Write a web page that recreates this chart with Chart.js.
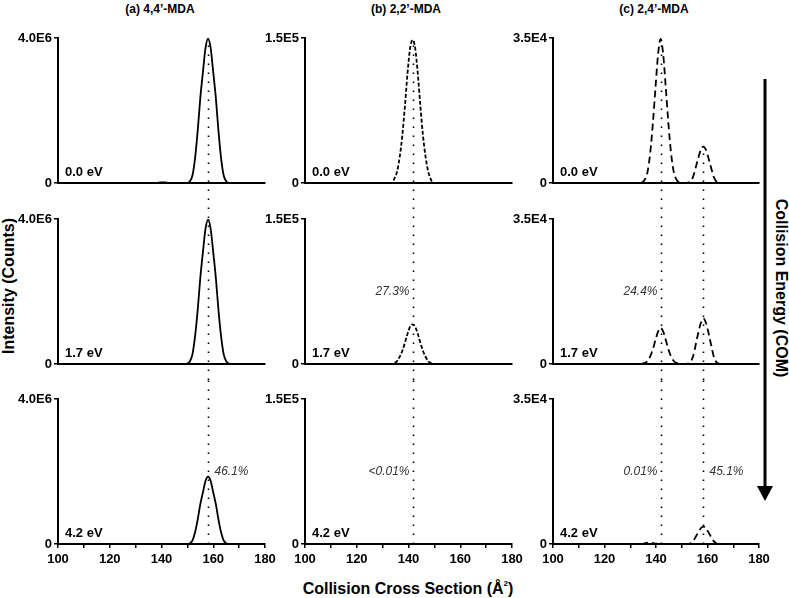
<!DOCTYPE html>
<html>
<head>
<meta charset="utf-8">
<script src="https://cdn.jsdelivr.net/npm/chart.js@4.4.1/dist/chart.umd.min.js"></script>
<style>
body { margin: 0; background: #fff; }
#fig { position: relative; width: 789px; height: 598px; font-family: "Liberation Sans", Arial, sans-serif; color: #000; overflow: hidden; }
#fig canvas { position: absolute; }
.lbl { position: absolute; font-weight: bold; white-space: nowrap; transform: translate(-50%, -50%); }
</style>
</head>
<body>
<div id="fig">
  <div class="lbl" style="left:9px;top:286px;font-size:16px;transform:translate(-50%,-50%) rotate(-90deg)">Intensity (Counts)</div>
  <div class="lbl" style="left:408px;top:588px;font-size:16px">Collision Cross Section (Å<span style="font-size:8px;vertical-align:8px">2</span>)</div>
  <div class="lbl" style="left:781px;top:288px;font-size:16px;transform:translate(-50%,-50%) rotate(90deg)">Collision Energy (COM)</div>
  <svg style="position:absolute;left:0;top:0" width="789" height="598">
    <line x1="765" y1="79" x2="765" y2="490" stroke="#000" stroke-width="3"/>
    <polygon points="757,486 773,486 765,501" fill="#000"/>
  </svg>
</div>
<script>
// collision cross sections (Å²)
const CCS_A = [100, 138, 139, 140, 141, 142, 143, 144, 149, 150, 151, 152, 153, 154, 155, 156, 157, 158,
               159, 160, 161, 162, 163, 164, 165, 166, 167, 180];
const CCS_B = [100, 133.6, 134.6, 135.6, 136.6, 137.6, 138.6, 139.6, 140.6, 141.6, 142.6, 143.6, 144.6,
               145.6, 146.6, 147.6, 148.6, 149.6, 180];
const CCS_C = [100, 133.8, 134.8, 135.8, 136.8, 137.8, 138.8, 139.8, 140.8, 141.8, 142.8, 143.8, 144.8,
               145.8, 146.8, 147.8, 148.8, 149.8,
               150.4, 151.4, 152.4, 153.4, 154.4, 155.4, 156.4, 157.4, 158.4, 159.4, 160.4, 161.4,
               162.4, 163.4, 164.4, 165.4, 166.4, 180];

// intensities, 4,4'-MDA (x1E6)
const A_00 = [0, 0, 0.01, 0.02, 0.02, 0.01, 0, 0, 0, 0, 0.05, 0.22, 0.7, 1.45, 2.35, 3.05, 3.72, 3.98,
              3.72, 3.05, 2.35, 1.45, 0.7, 0.22, 0.05, 0, 0, 0];
const A_17 = [0, 0, 0, 0, 0, 0, 0, 0, 0, 0.01, 0.08, 0.28, 0.78, 1.5, 2.38, 3.08, 3.73, 3.98,
              3.73, 3.08, 2.38, 1.5, 0.78, 0.28, 0.08, 0.01, 0, 0];
const A_42 = [0, 0, 0, 0, 0, 0, 0, 0, 0, 0, 0.02, 0.1, 0.33, 0.68, 1.1, 1.42, 1.74, 1.86,
              1.74, 1.42, 1.1, 0.68, 0.33, 0.1, 0.02, 0, 0, 0];

// intensities, 2,2'-MDA (x1E5)
const B_00 = [0, 0, 0.05, 0.12, 0.27, 0.49, 0.79, 1.13, 1.39, 1.48, 1.39, 1.13, 0.79, 0.49, 0.27, 0.12, 0.04, 0, 0];
const B_17 = [0, 0, 0.01, 0.03, 0.075, 0.135, 0.22, 0.31, 0.385, 0.41, 0.385, 0.31, 0.22, 0.135, 0.075, 0.03, 0.01, 0, 0];
const B_42 = [0, 0, 0, 0, 0, 0, 0, 0, 0, 0, 0, 0, 0, 0, 0, 0, 0, 0, 0];

// intensities, 2,4'-MDA (x1E4)
const C_00 = [0,
              0, 0.02, 0.1, 0.3, 0.75, 1.45, 2.3, 3.1, 3.48, 3.1, 2.3, 1.45, 0.75, 0.3, 0.1, 0.02, 0,
              0, 0, 0.01, 0.04, 0.15, 0.37, 0.6, 0.8, 0.88, 0.8, 0.6, 0.37, 0.15, 0.04, 0.01, 0, 0,
              0];
const C_17 = [0,
              0, 0.01, 0.03, 0.08, 0.19, 0.36, 0.58, 0.78, 0.87, 0.78, 0.58, 0.36, 0.19, 0.08, 0.03, 0.01, 0,
              0, 0, 0.01, 0.05, 0.19, 0.46, 0.75, 0.99, 1.1, 0.99, 0.75, 0.46, 0.19, 0.05, 0.01, 0, 0,
              0];
const C_42 = [0,
              0, 0, 0.02, 0.03, 0.03, 0.02, 0.01, 0, 0.01, 0, 0, 0, 0, 0, 0, 0, 0,
              0, 0, 0, 0.02, 0.07, 0.17, 0.28, 0.38, 0.42, 0.38, 0.28, 0.17, 0.07, 0.02, 0, 0, 0,
              0];

// dotted reference positions
const REF_A = [158.0];
const REF_B = [141.6];
const REF_C = [141.8, 158.4];

const COMPOUNDS = ['(a) 4,4’-MDA', '(b) 2,2’-MDA', '(c) 2,4’-MDA'];
const ENERGIES = ['0.0 eV', '1.7 eV', '4.2 eV'];
const Y_MAX = [4.0e6, 1.5e5, 3.5e4];
const Y_UNIT = [1e6, 1e5, 1e4];
const Y_TOP_LABELS = ['4.0E6', '1.5E5', '3.5E4'];
const X_TICK_LABELS = [100, 120, 140, 160, 180];

// percentage notes: [column, row, text, reference line, side]
const NOTES = [
    [1, 1, '27.3%', 0, 'left'],
    [2, 1, '24.4%', 0, 'left'],
    [0, 2, '46.1%', 0, 'right'],
    [1, 2, '<0.01%', 0, 'left'],
    [2, 2, '0.01%', 0, 'left'],
    [2, 2, '45.1%', 1, 'right']
];

const panels = [
    { ccs: CCS_A, rows: [A_00, A_17, A_42], refs: REF_A, dash: [] },
    { ccs: CCS_B, rows: [B_00, B_17, B_42], refs: REF_B, dash: [4, 2] },
    { ccs: CCS_C, rows: [C_00, C_17, C_42], refs: REF_C, dash: [7, 4] }
];

// layout of the 3x3 grid (pixels)
const COL_LEFT = [0, 265, 505];
const COL_W = [280, 265, 275];
const Y_AXIS_W = [58, 40, 48];
const RIGHT_PAD = [15, 18, 21];
const ROW_TOP = [20, 200, 380];
const ROW_H = [180, 180, 190];
const TOP_PAD = [18, 19, 19];
const X_AXIS_H = [17, 16, 26];
const TITLE_X = [160, 406, 654];

const FONT = '"Liberation Sans", Arial, sans-serif';
Chart.defaults.font.family = FONT;
Chart.defaults.color = '#000';

const fig = document.getElementById('fig');

COMPOUNDS.forEach((t, c) => {
    const d = document.createElement('div');
    d.className = 'lbl';
    d.style.left = TITLE_X[c] + 'px';
    d.style.top = '9px';
    d.style.fontSize = '12px';
    d.textContent = t;
    fig.appendChild(d);
});

const marks = {
    id: 'marks',
    afterDatasetsDraw(chart, args, o) {
        const { ctx, chartArea, scales: { x, y } } = chart;
        ctx.save();
        ctx.strokeStyle = '#000';
        ctx.lineWidth = 1.6;
        ctx.setLineDash([1.6, 7.4]);
        const linePx = o.refs.map(r => Math.round(x.getPixelForValue(r)) + 0.5);
        linePx.forEach((px, i) => {
            let y0 = 0, y1 = chart.height;
            if (o.row === 0) y0 = y.getPixelForValue(o.tops[i]);
            if (o.row === 2) y1 = chartArea.bottom;
            ctx.beginPath();
            ctx.moveTo(px, y1);
            ctx.lineTo(px, y0);
            ctx.stroke();
        });
        ctx.setLineDash([]);

        ctx.fillStyle = '#000';
        ctx.font = 'bold 13px ' + FONT;
        ctx.textAlign = 'left';
        ctx.textBaseline = 'alphabetic';
        ctx.fillText(o.energy, chartArea.left + 7, chartArea.bottom - 7);

        ctx.font = 'italic 12px ' + FONT;
        ctx.fillStyle = '#333';
        ctx.textBaseline = 'middle';
        const midY = (chartArea.top + chartArea.bottom) / 2;
        o.notes.forEach(n => {
            const px = linePx[n[3]];
            if (n[4] === 'left') {
                ctx.textAlign = 'right';
                ctx.fillText(n[2], px - 4, midY);
            } else {
                ctx.textAlign = 'left';
                ctx.fillText(n[2], px + 6, midY);
            }
        });
        ctx.restore();
    }
};

panels.forEach((p, c) => {
    const tops = p.refs.map(r => p.rows[0][p.ccs.indexOf(r)] * Y_UNIT[c]);
    p.rows.forEach((vals, r) => {
        const cv = document.createElement('canvas');
        cv.width = COL_W[c];
        cv.height = ROW_H[r];
        cv.style.left = COL_LEFT[c] + 'px';
        cv.style.top = ROW_TOP[r] + 'px';
        fig.appendChild(cv);

        const bottomRow = r === 2;
        new Chart(cv.getContext('2d'), {
            type: 'line',
            data: {
                datasets: [{
                    data: p.ccs.map((v, i) => ({ x: v, y: vals[i] * Y_UNIT[c] })),
                    borderColor: '#000',
                    borderWidth: 1.8,
                    borderDash: p.dash,
                    pointRadius: 0,
                    fill: false,
                    cubicInterpolationMode: 'monotone'
                }]
            },
            options: {
                responsive: false,
                animation: false,
                devicePixelRatio: 1,
                layout: { padding: { top: TOP_PAD[r], right: RIGHT_PAD[c], left: 0, bottom: 0 } },
                plugins: {
                    legend: { display: false },
                    tooltip: { enabled: false },
                    marks: {
                        row: r,
                        refs: p.refs,
                        tops: tops,
                        energy: ENERGIES[r],
                        notes: NOTES.filter(n => n[0] === c && n[1] === r)
                    }
                },
                scales: {
                    x: {
                        type: 'linear',
                        min: 100,
                        max: 180,
                        afterFit: s => { s.height = X_AXIS_H[r]; },
                        border: { display: true, color: '#000', width: 2 },
                        grid: { drawOnChartArea: false, drawTicks: bottomRow, tickLength: 4, color: '#000', lineWidth: 1.5 },
                        ticks: {
                            display: bottomRow,
                            stepSize: 10,
                            autoSkip: false,
                            maxRotation: 0,
                            padding: 4,
                            font: { size: 13, weight: 'bold' },
                            callback: v => X_TICK_LABELS.includes(v) ? String(v) : ''
                        }
                    },
                    y: {
                        type: 'linear',
                        min: 0,
                        max: Y_MAX[c],
                        afterFit: s => { s.width = Y_AXIS_W[c]; },
                        afterBuildTicks: s => { s.ticks = [{ value: 0 }, { value: Y_MAX[c] }]; },
                        border: { display: true, color: '#000', width: 2 },
                        grid: { drawOnChartArea: false, drawTicks: true, tickLength: 4, color: '#000', lineWidth: 1.5 },
                        ticks: {
                            padding: 2,
                            font: { size: 13, weight: 'bold' },
                            callback: v => v === 0 ? '0' : Y_TOP_LABELS[c]
                        }
                    }
                }
            },
            plugins: [marks]
        });
    });
});
</script>
</body>
</html>
